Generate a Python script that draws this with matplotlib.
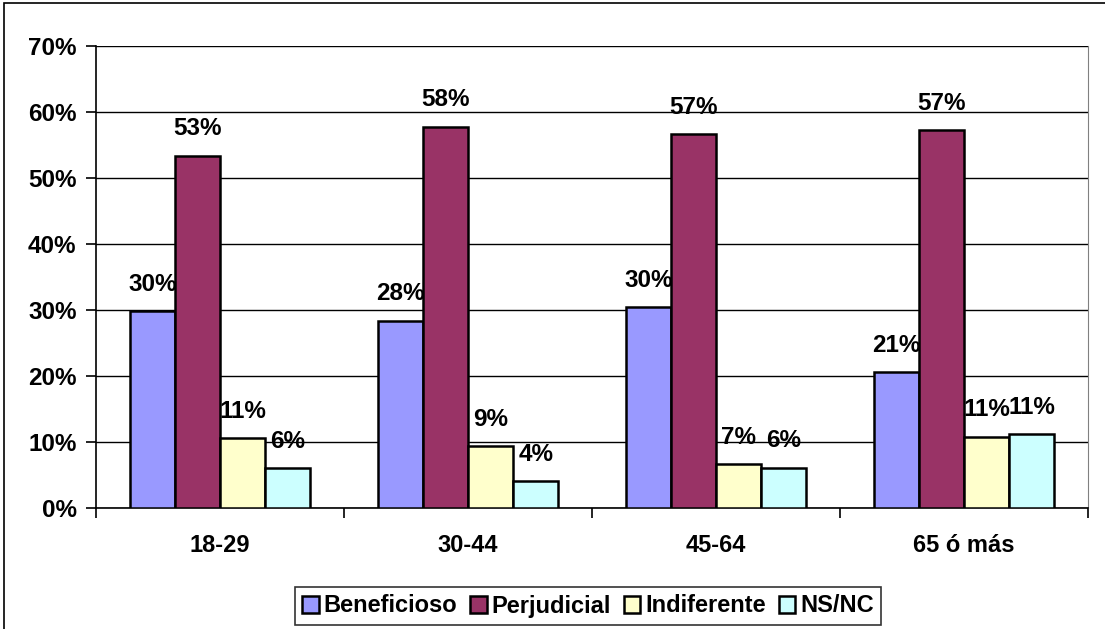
import matplotlib.pyplot as plt
import numpy as np
from matplotlib.patches import Rectangle
from matplotlib.ticker import FuncFormatter

plt.rcParams['font.family'] = ['Liberation Sans', 'DejaVu Sans']
plt.rcParams['font.weight'] = 'bold'

# Данные
grupos = ['18-29', '30-44', '45-64', '65 ó más']
series = ['Beneficioso', 'Perjudicial', 'Indiferente', 'NS/NC']
beneficioso = [29.8, 28.4, 30.4, 20.6]
perjudicial = [53.4, 57.8, 56.7, 57.2]
indiferente = [10.6, 9.4, 6.7, 10.8]
nsnc = [6.0, 4.1, 6.1, 11.2]
etiquetas = [['30%', '28%', '30%', '21%'],
             ['53%', '58%', '57%', '57%'],
             ['11%', '9%', '7%', '11%'],
             ['6%', '4%', '6%', '11%']]
colores = ['#9999FF', '#993366', '#FFFFCC', '#CCFFFF']

valores = [beneficioso, perjudicial, indiferente, nsnc]

fig = plt.figure(figsize=(11.05, 6.29), dpi=100)
ax = fig.add_axes([96 / 1105, 1 - 508 / 629, (1088 - 96) / 1105, (508 - 46) / 629])

x = np.arange(len(grupos))
ancho = 0.182
for i, (vals, col, nombre) in enumerate(zip(valores, colores, series)):
    pos = x + (i - 1.5) * ancho
    ax.bar(pos, vals, width=ancho, color=col, edgecolor='black', linewidth=1.8,
           label=nombre, zorder=3)
    for p, v, t in zip(pos, vals, etiquetas[i]):
        ax.annotate(t, (p, v), xytext=(0, 11), textcoords='offset points',
                    ha='center', va='bottom', fontsize=17.5, fontweight='bold', zorder=4)

ax.set_xlim(-0.5, len(grupos) - 0.5)
ax.set_ylim(0, 70)
ax.set_yticks(np.arange(0, 71, 10))
ax.yaxis.set_major_formatter(FuncFormatter(lambda v, p: f'{v:.0f}%'))
ax.yaxis.grid(True, color='black', linewidth=1.0, zorder=0)

ax.set_xticks(x)
ax.set_xticklabels(grupos)
ax.set_xticks(np.arange(-0.5, len(grupos)), minor=True)
ax.tick_params(axis='x', which='major', length=0, pad=19, labelsize=17)
ax.tick_params(axis='x', which='minor', length=7, width=1.2, direction='out')
ax.tick_params(axis='y', length=7, width=1.2, direction='out', pad=7, labelsize=17.5)

for lado in ['left', 'bottom']:
    ax.spines[lado].set_color('black')
    ax.spines[lado].set_linewidth(1.2)
ax.spines['top'].set_visible(False)
ax.spines['right'].set_color('#808080')

leg = fig.legend(loc='center', bbox_to_anchor=(588 / 1105, 1 - 606 / 629), ncol=4,
                 fontsize=17, frameon=True, fancybox=False, edgecolor='black',
                 handlelength=0.7, handleheight=0.7, handletextpad=0.2,
                 columnspacing=0.55, borderpad=0.3, borderaxespad=0)
leg.get_frame().set_linewidth(1.2)

# Рамка вокруг диаграммы
fig.patches.append(Rectangle((4 / 1105, -0.1), 1.2, 1.1 - 3 / 629, transform=fig.transFigure,
                             fill=False, edgecolor='black', linewidth=1.2))

fig.savefig('out.png', dpi=100)
